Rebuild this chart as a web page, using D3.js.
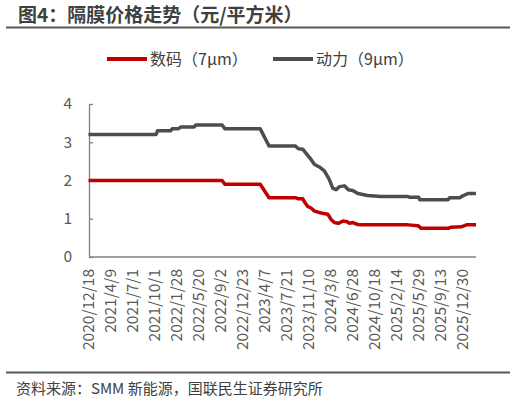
<!DOCTYPE html>
<html>
<head>
<meta charset="UTF-8">
<title>隔膜价格走势</title>
<script src="https://cdn.jsdelivr.net/npm/d3@7/dist/d3.min.js"></script>
<style>
  body { margin: 0; background: #fff; }
  svg { display: block; font-family: "Noto Sans CJK SC", "Noto Sans", sans-serif; }
</style>
</head>
<body>
<div id="chart"></div>
<script>
// category labels, one every 15 weekly points
var xLabels = ["2020/12/18", "2021/4/9", "2021/7/1", "2021/10/1", "2022/1/28", "2022/5/20",
  "2022/9/2", "2022/12/23", "2023/4/7", "2023/7/21", "2023/11/10", "2024/3/8", "2024/6/28",
  "2024/10/18", "2025/2/14", "2025/5/29", "2025/9/13", "2025/12/30"];
var labelStep = 15;
var lastIdx = 264;

// 动力（9μm）: point index / price
var powerIdx = [0, 46, 47, 56, 57, 61, 63, 72, 73, 91, 93, 117, 123, 141, 143, 146, 148, 151.6, 154, 157,
  160.7, 164, 166.4, 168.7, 171, 174.4, 177, 180, 183.5, 190, 199.4, 217.7, 219, 225, 225.6, 245, 246,
  253, 255, 258.6, 264];
var powerVal = [3.2, 3.2, 3.3, 3.3, 3.35, 3.35, 3.4, 3.4, 3.45, 3.45, 3.35, 3.35, 2.9, 2.9, 2.83, 2.82, 2.72,
  2.55, 2.42, 2.36, 2.25, 2.03, 1.8, 1.76, 1.84, 1.86, 1.76, 1.74, 1.66, 1.61, 1.58, 1.58, 1.56, 1.56,
  1.5, 1.5, 1.55, 1.55, 1.6, 1.66, 1.66];

// 数码（7μm）
var digitalIdx = [0, 91, 93, 117, 123, 141, 143, 146, 147, 149.4, 151.6, 154, 158.4, 163, 165.3, 167.5,
  170.3, 173.3, 176.2, 177.8, 180, 183.5, 185.8, 217.7, 224.5, 226.7, 245, 247, 254, 257.5, 264];
var digitalVal = [2.0, 2.0, 1.9, 1.9, 1.55, 1.55, 1.52, 1.52, 1.45, 1.32, 1.28, 1.2, 1.15, 1.12, 0.98, 0.9,
  0.88, 0.94, 0.92, 0.88, 0.9, 0.85, 0.84, 0.84, 0.82, 0.75, 0.75, 0.78, 0.79, 0.84, 0.84];

var yTicks = [0, 1, 2, 3, 4];

var W = 516, H = 403;
var svg = d3.select("#chart").append("svg").attr("width", W).attr("height", H);

// title + rules
svg.append("text").attr("x", 18).attr("y", 22)
  .attr("font-size", 19).attr("font-weight", "bold").attr("fill", "#404040")
  .text("图4：隔膜价格走势（元/平方米）");
svg.append("line").attr("x1", 6).attr("x2", 510).attr("y1", 27.5).attr("y2", 27.5)
  .attr("stroke", "#595959").attr("stroke-width", 2);
svg.append("line").attr("x1", 6).attr("x2", 510).attr("y1", 372.5).attr("y2", 372.5)
  .attr("stroke", "#595959").attr("stroke-width", 2);
svg.append("text").attr("x", 16).attr("y", 394)
  .attr("font-size", 15).attr("fill", "#404040")
  .text("资料来源：SMM 新能源，国联民生证券研究所");

var x = d3.scaleLinear().domain([0, lastIdx]).range([88.5, 476]);
var y = d3.scaleLinear().domain([0, 4]).range([257, 104]);

// y axis
var yAxis = svg.append("g").attr("transform", "translate(89,0)")
  .call(d3.axisLeft(y).tickValues(yTicks).tickFormat(d3.format("d"))
    .tickSizeInner(-4).tickSizeOuter(0).tickPadding(17));
yAxis.select(".domain").attr("stroke", "#808080").attr("stroke-width", 1.3);
yAxis.selectAll(".tick line").attr("stroke", "#808080").attr("stroke-width", 1.3);
yAxis.selectAll(".tick text").attr("font-size", 15.5).attr("fill", "#595959")
  .attr("font-family", "'Noto Sans CJK SC', sans-serif");

// x axis line
svg.append("line").attr("x1", 89).attr("x2", 476).attr("y1", y(0)).attr("y2", y(0))
  .attr("stroke", "#808080").attr("stroke-width", 1.3);

// x labels, rotated
svg.append("g").selectAll("text").data(xLabels).join("text")
  .attr("transform", function(d, i) {
    return "translate(" + (x(i * labelStep) + 5.5) + ",269) rotate(-90)";
  })
  .attr("text-anchor", "end")
  .attr("font-size", 15.5).attr("fill", "#595959")
  .text(function(d) { return d; });

var line = d3.line()
  .x(function(d) { return x(d[0]); })
  .y(function(d) { return y(d[1]); });

var series = [
  { name: "数码（7μm）", color: "#C00000", pts: d3.zip(digitalIdx, digitalVal) },
  { name: "动力（9μm）", color: "#4D4D4D", pts: d3.zip(powerIdx, powerVal) }
];

svg.append("g").selectAll("path").data(series).join("path")
  .attr("d", function(d) { return line(d.pts); })
  .attr("fill", "none")
  .attr("stroke", function(d) { return d.color; })
  .attr("stroke-width", 3.5)
  .attr("stroke-linejoin", "round");

// legend
var legendX = [107, 273];
var lg = svg.append("g").selectAll("g").data(series).join("g")
  .attr("transform", function(d, i) { return "translate(" + legendX[i] + ",59)"; });
lg.append("line").attr("x1", 0).attr("x2", 40).attr("y1", 0).attr("y2", 0)
  .attr("stroke", function(d) { return d.color; }).attr("stroke-width", 4);
lg.append("text").attr("x", 43).attr("y", 5.5)
  .attr("font-size", 16).attr("fill", "#404040")
  .text(function(d) { return d.name; });
</script>
</body>
</html>
